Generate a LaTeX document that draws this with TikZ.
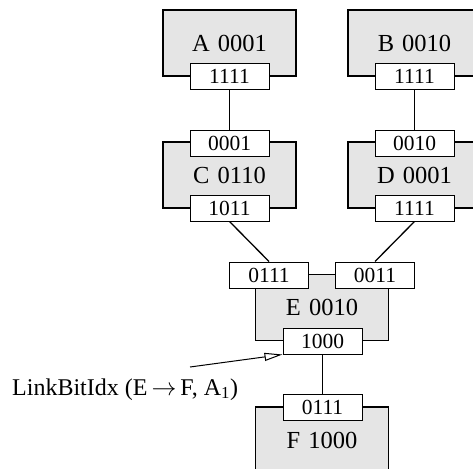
\documentclass[tikz,border=0pt]{standalone}
\usepackage{fontspec}
\setmainfont{Liberation Serif}
\usetikzlibrary{arrows.meta}
\begin{document}
\begin{tikzpicture}[x=1pt,y=-1pt,
  host/.style={draw, line width=1.6pt, fill=gray!20, minimum width=133pt, minimum height=66pt, inner sep=0pt, font=\fontsize{24.5}{28}\selectfont},
  port/.style={draw, line width=1pt, fill=white, minimum width=79pt, minimum height=26pt, inner sep=0pt, font=\fontsize{21.5}{24}\selectfont},
  link/.style={line width=1.3pt},
  callout/.style={line width=1pt, -{Triangle[open, length=18pt, width=8pt]}}]
\clip (0,0) rectangle (473,468);
% hosts
\node[host] (A) at (229.5,43) {A\hspace{0.33em}0001};
\node[host] (B) at (414.5,43) {B\hspace{0.33em}0010};
\node[host] (C) at (229.5,175) {C\hspace{0.33em}0110};
\node[host] (D) at (414.5,175) {D\hspace{0.33em}0001};
\node[host] (E) at (322,307.5) {E\hspace{0.33em}0010};
\node[host] (F) at (322,440) {F\hspace{0.33em}1000};
% ports
\node[port] (pA) at (229.5,76.5) {1111};
\node[port] (pB) at (414.5,76.5) {1111};
\node[port] (pC1) at (229.5,143) {0001};
\node[port] (pC2) at (229.5,208) {1011};
\node[port] (pD1) at (414.5,143) {0010};
\node[port] (pD2) at (414.5,208) {1111};
\node[port] (pE1) at (269,275) {0111};
\node[port] (pE2) at (375,275) {0011};
\node[port] (pE3) at (322.5,341) {1000};
\node[port] (pF) at (322.5,407) {0111};
% links
\draw[link] (pA.south) -- (pC1.north);
\draw[link] (pB.south) -- (pD1.north);
\draw[link] (pC2.south) -- (pE1.north);
\draw[link] (pD2.south) -- (pE2.north);
\draw[link] (pE3.south) -- (pF.north);
% callout
\node[anchor=base west, inner sep=0pt, font=\fontsize{24}{28}\selectfont] (lbl) at (12,395) {LinkBitIdx (E\,$\rightarrow$\,F, A\textsubscript{1})};
\coordinate (cs) at (190,367);
\draw[callout] (cs) -- (pE3.south west);
\end{tikzpicture}
\end{document}
